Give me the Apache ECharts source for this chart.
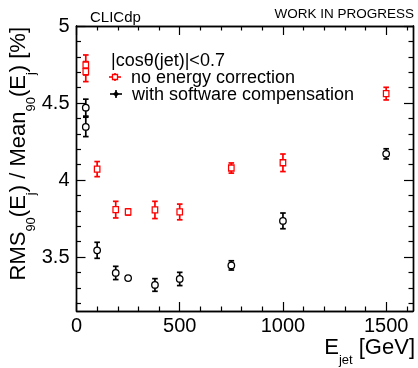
<!DOCTYPE html>
<html><head><meta charset="utf-8">
<script src="https://cdn.jsdelivr.net/npm/echarts@6/dist/echarts.min.js"></script>
<style>html,body{margin:0;padding:0;background:#fff}#c{width:418px;height:368px}</style>
</head><body><div id="c"></div>
<script>
// ---- data ----
const energies = [45, 45, 100, 190, 250, 380, 500, 750, 1000, 1500];
const noCorrValues = [4.747, 4.704, 4.071, 3.808, 3.793, 3.806, 3.793, 4.078, 4.112, 4.561];
const noCorrErrors = [0.065, 0.065, 0.049, 0.054, 0.02, 0.056, 0.051, 0.033, 0.057, 0.041];
const swcValues = [4.470, 4.345, 3.544, 3.397, 3.364, 3.319, 3.358, 3.446, 3.735, 4.170];
const swcErrors = [0.055, 0.063, 0.052, 0.043, 0.0, 0.041, 0.043, 0.030, 0.051, 0.033];
const xMajorTicks = [0, 500, 1000, 1500];
const xMinorTicks = [100, 200, 300, 400, 600, 700, 800, 900, 1100, 1200, 1300, 1400, 1600];
const yMajorTicks = [3.5, 4, 4.5, 5];
const yMinorTicks = [3.2, 3.3, 3.4, 3.6, 3.7, 3.8, 3.9, 4.1, 4.2, 4.3, 4.4, 4.6, 4.7, 4.8, 4.9];
const legendLabels = ['no energy correction', 'with software compensation'];

const FONT = "'Liberation Sans', Arial, sans-serif";
const RED = '#ff0000', BLACK = '#000000';
const X_MIN = 0, X_MAX = 1630, Y_MIN = 3.15, Y_MAX = 5.0;
const fmt = v => String(v);

function xAx(pos, ticks, len, labels) {
  return {
    type: 'value', position: pos, min: X_MIN, max: X_MAX,
    axisLine: { show: true, onZero: false, lineStyle: { color: '#000', width: 1.4 } },
    axisTick: { show: true, inside: true, length: len, customValues: ticks, lineStyle: { color: '#000', width: 1.2 } },
    axisLabel: labels ? { show: true, customValues: ticks, formatter: fmt, fontSize: 20, fontFamily: FONT, color: '#000', margin: 5 } : { show: false },
    splitLine: { show: false }
  };
}
function yAx(pos, ticks, len, labels) {
  return {
    type: 'value', position: pos, min: Y_MIN, max: Y_MAX,
    axisLine: { show: true, onZero: false, lineStyle: { color: '#000', width: 1.4 } },
    axisTick: { show: true, inside: true, length: len, customValues: ticks, lineStyle: { color: '#000', width: 1.2 } },
    axisLabel: labels ? { show: true, customValues: ticks, formatter: fmt, fontSize: 20, fontFamily: FONT, color: '#000', margin: 7 } : { show: false },
    splitLine: { show: false }
  };
}

function errSeries(vals, errs, color) {
  return {
    type: 'custom', z: 2,
    data: energies.map((x, i) => [x, vals[i], errs[i]]),
    encode: { x: 0, y: 1 },
    renderItem: function (params, api) {
      const x = api.value(0), y = api.value(1), e = api.value(2);
      if (!e) return { type: 'group', children: [] };
      const t = api.coord([x, y + e]), b = api.coord([x, y - e]);
      const cw = 2.8, st = { stroke: color, lineWidth: 1.7 };
      return { type: 'group', children: [
        { type: 'line', shape: { x1: t[0], y1: t[1], x2: b[0], y2: b[1] }, style: st },
        { type: 'line', shape: { x1: t[0] - cw, y1: t[1], x2: t[0] + cw, y2: t[1] }, style: st },
        { type: 'line', shape: { x1: b[0] - cw, y1: b[1], x2: b[0] + cw, y2: b[1] }, style: st }
      ] };
    }
  };
}
function ptSeries(vals, color, symbol, size) {
  return {
    type: 'scatter', z: 3, symbol: symbol, symbolSize: size,
    data: energies.map((x, i) => [x, vals[i]]),
    itemStyle: { color: '#fff', borderColor: color, borderWidth: 1.3, opacity: 1 },
    emphasis: { disabled: true }
  };
}

const nameRich = {
  m: { fontSize: 22, fontFamily: FONT, color: '#000', lineHeight: 24, verticalAlign: 'top' },
  s: { fontSize: 13, fontFamily: FONT, color: '#000', lineHeight: 13, verticalAlign: 'top', padding: [17, 0, 0, 0] }
};

function legendMarker(cx, cy, color, square) {
  const st = { stroke: color, lineWidth: 1.6 };
  const items = [
    { type: 'line', shape: { x1: cx - 6, y1: cy, x2: cx + 6, y2: cy }, style: st },
    { type: 'line', shape: { x1: cx, y1: cy - 4, x2: cx, y2: cy + 4 }, style: st }
  ];
  if (square) items.push({ type: 'rect', shape: { x: cx - 2.5, y: cy - 2.5, width: 5, height: 5 }, style: { stroke: color, fill: '#fff', lineWidth: 1.3 } });
  else items.push({ type: 'polygon', shape: { points: [[cx, cy - 3], [cx + 3, cy], [cx, cy + 3], [cx - 3, cy]] }, style: { fill: color } });
  return items;
}

const chart = echarts.init(document.getElementById('c'), null, { renderer: 'canvas' });
chart.setOption({
  animation: false,
  backgroundColor: '#fff',
  grid: { left: 76.5, right: 5, top: 26, bottom: 57, containLabel: false },
  xAxis: [xAx('bottom', xMajorTicks, 9, true), xAx('bottom', xMinorTicks, 4.5, false),
          xAx('top', xMajorTicks, 9, false), xAx('top', xMinorTicks, 4.5, false)],
  yAxis: [yAx('left', yMajorTicks, 9, true), yAx('left', yMinorTicks, 4.5, false),
          yAx('right', yMajorTicks, 9, false), yAx('right', yMinorTicks, 4.5, false)],
  series: [
    errSeries(noCorrValues, noCorrErrors, RED),
    errSeries(swcValues, swcErrors, BLACK),
    ptSeries(noCorrValues, RED, 'rect', [5.5, 6]),
    ptSeries(swcValues, BLACK, 'circle', 6.5)
  ],
  graphic: [
    { type: 'text', x: 90, y: 18, style: { text: 'CLICdp', fontSize: 15, fontFamily: FONT, fill: '#000', verticalAlign: 'middle' } },
    { type: 'text', x: 414, y: 14, style: { text: 'WORK IN PROGRESS', fontSize: 13.5, fontFamily: FONT, fill: '#000', align: 'right', verticalAlign: 'middle' } },
    { type: 'text', x: 111, y: 61, style: { text: '|cosθ(jet)|<0.7', fontSize: 18, fontFamily: FONT, fill: '#000', verticalAlign: 'middle' } },
    { type: 'text', x: 131, y: 78, style: { text: legendLabels[0], fontSize: 18, fontFamily: FONT, fill: '#000', verticalAlign: 'middle' } },
    { type: 'text', x: 132, y: 95, style: { text: legendLabels[1], fontSize: 18, fontFamily: FONT, fill: '#000', verticalAlign: 'middle' } },
    { type: 'group', children: legendMarker(115, 77, RED, true).concat(legendMarker(116, 94, BLACK, false)) },
    { type: 'text', x: 415, y: 337, style: { text: '{m|E}{s|jet}{m| [GeV]}', rich: nameRich, align: 'right', verticalAlign: 'top' } },
    { type: 'text', x: 8, y: 27, rotation: Math.PI / 2, style: { text: '{m|RMS}{s|90}{m|(E}{s|j}{m|) / Mean}{s|90}{m|(E}{s|j}{m|) [%]}', rich: nameRich, align: 'right', verticalAlign: 'top' } }
  ]
});
</script></body></html>
